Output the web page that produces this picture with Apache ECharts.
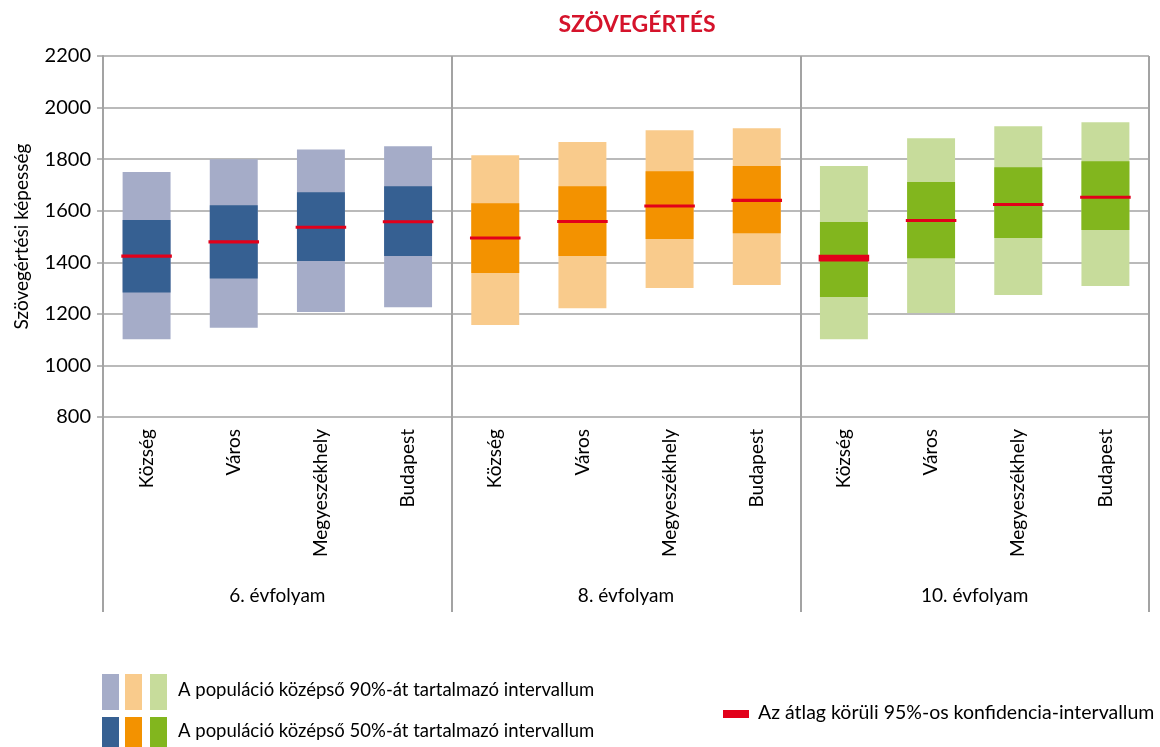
<!DOCTYPE html>
<html>
<head>
<meta charset="utf-8">
<script src="https://cdn.jsdelivr.net/npm/echarts@6/dist/echarts.min.js"></script>
<style>
  html, body { margin: 0; padding: 0; background: #fff; }
  #chart { width: 1160px; height: 747px; }
</style>
</head>
<body>
<div id="chart"></div>
<script>
// categories and grade groups
const categories = ['Község', 'Város', 'Megyeszékhely', 'Budapest',
                    'Község', 'Város', 'Megyeszékhely', 'Budapest',
                    'Község', 'Város', 'Megyeszékhely', 'Budapest'];
const grades = ['6. évfolyam', '8. évfolyam', '10. évfolyam'];

// percentiles of the population (5, 25, 75, 95) and the mean with its 95% CI half-width
const p5   = [1102, 1146, 1207, 1226, 1157, 1222, 1300, 1312, 1102, 1203, 1273, 1308];
const p25  = [1283, 1337, 1405, 1424, 1358, 1424, 1490, 1513, 1265, 1416, 1494, 1525];
const p75  = [1564, 1621, 1672, 1695, 1629, 1695, 1753, 1773, 1556, 1711, 1769, 1792];
const p95  = [1750, 1800, 1837, 1850, 1815, 1866, 1912, 1920, 1773, 1881, 1928, 1943];
const mean = [1424, 1479, 1536, 1557, 1494, 1558, 1618, 1640, 1416, 1562, 1624, 1652];
const ciHalf = [6, 6, 6, 6, 6, 6, 6, 6, 13, 6, 6, 6];

const yTicks = { min: 800, max: 2200, step: 200 };

const lightColors = ['#a5acc8', '#f9cb8c', '#c7dc9b'];
const darkColors = ['#366092', '#f39200', '#82b61e'];
const red = '#e2001a';
const gridGray = '#a3a3a3';
const font = 'Lato, "Open Sans", sans-serif';

const chart = echarts.init(document.getElementById('chart'), null, { renderer: 'canvas' });

const boxData = categories.map((c, i) => [i, p5[i], p25[i], p75[i], p95[i]]);
const meanData = categories.map((c, i) => [i, mean[i] - ciHalf[i], mean[i] + ciHalf[i]]);

function renderBox(params, api) {
  const i = api.value(0);
  const g = Math.floor(i / 4);
  const w = api.size([1, 0])[0] * 0.55;
  const x = api.coord([i, 0])[0] - w / 2;
  const y5 = api.coord([i, api.value(1)])[1];
  const y25 = api.coord([i, api.value(2)])[1];
  const y75 = api.coord([i, api.value(3)])[1];
  const y95 = api.coord([i, api.value(4)])[1];
  return {
    type: 'group',
    children: [
      { type: 'rect', shape: { x: x, y: y95, width: w, height: y5 - y95 }, style: { fill: lightColors[g] } },
      { type: 'rect', shape: { x: x, y: y75, width: w, height: y25 - y75 }, style: { fill: darkColors[g] } }
    ]
  };
}

function renderMean(params, api) {
  const i = api.value(0);
  const w = api.size([1, 0])[0] * 0.58;
  const x = api.coord([i, 0])[0] - w / 2;
  const yLo = api.coord([i, api.value(1)])[1];
  const yHi = api.coord([i, api.value(2)])[1];
  return {
    type: 'rect',
    shape: { x: x, y: yHi, width: w, height: Math.max(yLo - yHi, 3) },
    style: { fill: red }
  };
}

const option = {
  backgroundColor: '#fff',
  animation: false,
  textStyle: { fontFamily: font, color: '#000' },
  title: {
    text: 'SZÖVEGÉRTÉS',
    left: 632,
    top: 8,
    textAlign: 'center',
    textStyle: { color: '#d5132b', fontSize: 23, fontWeight: 'bold', fontFamily: font }
  },
  grid: { left: 103, right: 11, top: 56, bottom: 330 },
  xAxis: [
    {
      type: 'category',
      data: categories,
      axisLine: { show: false },
      axisTick: { show: false },
      axisLabel: { interval: 0, rotate: 90, margin: 12, fontSize: 19, color: '#000', fontFamily: font }
    },
    {
      type: 'category',
      data: grades,
      position: 'bottom',
      axisLine: { show: false },
      axisTick: { show: true, interval: 0, length: 195, lineStyle: { color: gridGray, width: 2 } },
      axisLabel: { interval: 0, margin: 169, fontSize: 19, color: '#000', fontFamily: font },
      splitLine: { show: true, interval: 0, lineStyle: { color: gridGray, width: 2 } }
    }
  ],
  yAxis: {
    type: 'value',
    min: yTicks.min,
    max: yTicks.max,
    interval: yTicks.step,
    name: 'Szövegértési képesség',
    nameLocation: 'middle',
    nameGap: 72,
    nameTextStyle: { fontSize: 19, color: '#000', fontFamily: font },
    axisLine: { show: true, lineStyle: { color: gridGray, width: 2 } },
    axisTick: { show: true, length: 6, lineStyle: { color: gridGray, width: 1.5 } },
    axisLabel: { fontSize: 20, color: '#000', margin: 12, fontFamily: font, formatter: (v) => String(v) },
    splitLine: { show: true, lineStyle: { color: gridGray, width: 1.5 } }
  },
  series: [
    { type: 'custom', name: 'box', xAxisIndex: 0, renderItem: renderBox, data: boxData, encode: { x: 0, y: [1, 2, 3, 4] }, z: 2 },
    { type: 'custom', name: 'mean', xAxisIndex: 0, renderItem: renderMean, data: meanData, encode: { x: 0, y: [1, 2] }, z: 3 }
  ],
  graphic: [
    // legend: 90% interval swatches
    { type: 'rect', left: 102, top: 674, shape: { width: 17, height: 36 }, style: { fill: lightColors[0] } },
    { type: 'rect', left: 125, top: 674, shape: { width: 17, height: 36 }, style: { fill: lightColors[1] } },
    { type: 'rect', left: 150, top: 674, shape: { width: 17, height: 36 }, style: { fill: lightColors[2] } },
    { type: 'text', left: 178, top: 681, style: { text: 'A populáció középső 90%-át tartalmazó intervallum', fontSize: 18.5, fontFamily: font, fill: '#000' } },
    // legend: 50% interval swatches
    { type: 'rect', left: 102, top: 717, shape: { width: 17, height: 30 }, style: { fill: darkColors[0] } },
    { type: 'rect', left: 125, top: 717, shape: { width: 17, height: 30 }, style: { fill: darkColors[1] } },
    { type: 'rect', left: 150, top: 717, shape: { width: 17, height: 30 }, style: { fill: darkColors[2] } },
    { type: 'text', left: 178, top: 722, style: { text: 'A populáció középső 50%-át tartalmazó intervallum', fontSize: 18.5, fontFamily: font, fill: '#000' } },
    // legend: mean CI
    { type: 'rect', left: 723, top: 710, shape: { width: 26, height: 8 }, style: { fill: red } },
    { type: 'text', left: 758, top: 703, style: { text: 'Az átlag körüli 95%-os konfidencia-intervallum', fontSize: 19.5, fontFamily: font, fill: '#000' } }
  ]
};

chart.setOption(option);
window.addEventListener('resize', () => chart.resize());
</script>
</body>
</html>
